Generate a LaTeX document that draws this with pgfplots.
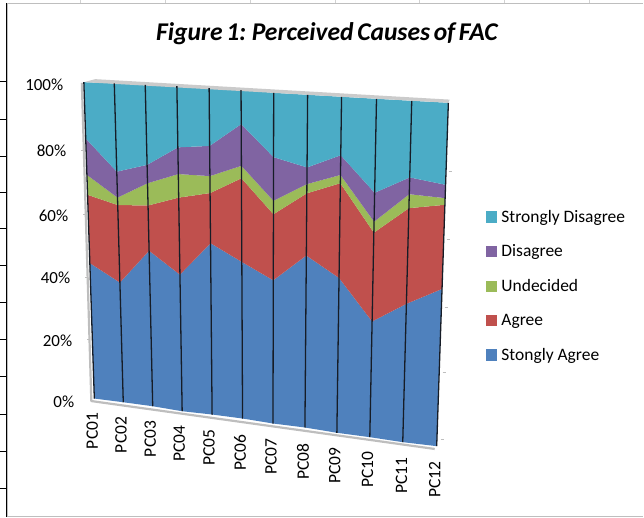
\documentclass[border=0pt]{standalone}
\usepackage{pgfplots}
\usepackage{pgfplotstable}
\usepackage{fontspec}
\setmainfont{Carlito}
\pgfplotsset{compat=1.18}
\usepgfplotslibrary{fillbetween}
\definecolor{cSD}{RGB}{75,172,198}
\definecolor{cD}{RGB}{128,100,162}
\definecolor{cU}{RGB}{155,187,89}
\definecolor{cA}{RGB}{192,80,77}
\definecolor{cSA}{RGB}{79,129,189}
\definecolor{wall}{RGB}{190,190,190}
% bx,by / tx,ty: where the 0% and the 100% of each category stand in the perspective view
\pgfplotstableread{
pc bx by tx ty sa a u d sd
1 94 399 83.5 82 44.0 21.5 6.2 11.2 17.1
2 123 402.7 114 83.3 38.7 24.3 2.3 8.0 26.7
3 152.5 406.7 145 84.7 49.6 14.0 6.8 5.6 24.0
4 182 411.7 176.7 86 43.2 23.6 7.1 8.0 18.1
5 212 415 209 88 53.7 15.2 5.1 9.0 17.0
6 242.5 419 241 90 48.9 25.2 3.7 12.3 9.9
7 273 424 273.7 92.7 44.5 19.9 4.0 12.9 18.7
8 305 428 307.7 94.7 52.9 18.5 2.7 4.9 21.0
9 337 433.3 341.7 96.7 47.3 27.9 2.4 5.7 16.7
10 370 437.7 376.7 98.7 35.3 26.3 3.2 8.4 26.8
11 403 442.7 412 100.7 41.7 27.9 4.0 4.8 21.6
12 437 446.7 448.7 102.7 47.0 24.3 1.9 3.8 23.0
}\data
\newcommand\layer[2]{\addplot[draw=none,forget plot,name path=#1] table[
  x expr={\thisrow{bx}+(\thisrow{tx}-\thisrow{bx})*sc((#2)/100)},
  y expr={-(\thisrow{by}+(\thisrow{ty}-\thisrow{by})*sc((#2)/100))}] {\data};}
\newcommand\ylab[3]{\node[anchor=east,font=\fontsize{17}{20}\selectfont,inner sep=0pt] at (axis cs:#1,-#2) {#3};}
\newcommand\xlab[3]{\node[rotate=90,font=\fontsize{17.5}{20}\selectfont,inner sep=0pt] at (axis cs:#1,-#2) {#3};}
\newcommand\gtick[1]{\draw[black,line width=1pt] (axis cs:0,-#1) -- (axis cs:6,-#1);}
\newcommand\ttick[1]{\draw[wall!70,line width=.6pt] (axis cs:#1,0) -- (axis cs:#1,-3);}
\newcommand\ltick[2]{\draw[wall,line width=.8pt] (axis cs:#2,-#1) -- +(-3pt,0pt);}
\newcommand\rtick[2]{\draw[wall,line width=.8pt] (axis cs:#2,-#1) -- +(3pt,0pt);}
\begin{document}
\begin{tikzpicture}
\begin{axis}[
  width=644pt,height=518pt,scale only axis,
  xmin=0,xmax=644,ymin=-518,ymax=0,
  hide axis,clip=false,
  declare function={sc(\p)=\p/(1.05-0.05*\p);},
  legend cell align=left,
  legend style={at={(axis cs:486,-208)},anchor=north west,draw=none,fill=none,
    font=\fontsize{17.5}{20}\selectfont,inner sep=0pt,outer sep=0pt,
    row sep=17.2pt,column sep=3pt},
  legend image code/.code={\fill[#1] (0pt,-5.2pt) rectangle (10.5pt,5.2pt);},
]
\path (axis cs:0,0) rectangle (axis cs:644,-518);
% sheet frame behind the chart
\draw[wall,line width=1.4pt] (axis cs:7,-3) -- (axis cs:7,-517) (axis cs:7,-3) -- (axis cs:644,-3) (axis cs:7,-517) -- (axis cs:644,-517);
\draw[black,line width=1.1pt] (axis cs:6,-3) -- (axis cs:6,-518);
\ttick{80}\ttick{165}\ttick{250}\ttick{335}\ttick{420}\ttick{505}\ttick{590}
\gtick{81}\gtick{119}\gtick{156}\gtick{193}\gtick{229}\gtick{266}\gtick{303}\gtick{340}\gtick{377}\gtick{415}\gtick{452}\gtick{489}
% walls of the 3-D box
\fill[wall!80] (axis cs:80,-83) -- (axis cs:95,-79) -- (axis cs:450,-99.5) -- (axis cs:448.7,-102.7) -- (axis cs:83.5,-82) -- cycle;
\draw[wall,line width=2.2pt,line join=round] (axis cs:81.5,-83) -- (axis cs:91,-401.5) -- (axis cs:435,-449.5);
\ltick{150}{84}\ltick{215}{86}\ltick{278}{88}\ltick{340}{90}
\rtick{171}{449}\rtick{240}{447}\rtick{308}{445}\rtick{373}{443}\rtick{440}{441}
% layers
\layer{L0}{0}
\layer{L1}{\thisrow{sa}}
\layer{L2}{\thisrow{sa}+\thisrow{a}}
\layer{L3}{\thisrow{sa}+\thisrow{a}+\thisrow{u}}
\layer{L4}{\thisrow{sa}+\thisrow{a}+\thisrow{u}+\thisrow{d}}
\layer{L5}{\thisrow{sa}+\thisrow{a}+\thisrow{u}+\thisrow{d}+\thisrow{sd}}
\addplot[cSA,forget plot] fill between[of=L0 and L1];
\addplot[cA,forget plot] fill between[of=L1 and L2];
\addplot[cU,forget plot] fill between[of=L2 and L3];
\addplot[cD,forget plot] fill between[of=L3 and L4];
\addplot[cSD,forget plot] fill between[of=L4 and L5];
% dark dividers at each category
\addplot[forget plot,color={rgb,255:red,22;green,28;blue,38},line width=1.3pt,
  quiver={u=\thisrow{tx}-\thisrow{bx},v=\thisrow{by}-\thisrow{ty}}]
  table[x=bx,y expr=-\thisrow{by}] {\data};
% legend
\addlegendimage{cSD}\addlegendentry{Strongly Disagree}
\addlegendimage{cD}\addlegendentry{Disagree}
\addlegendimage{cU}\addlegendentry{Undecided}
\addlegendimage{cA}\addlegendentry{Agree}
\addlegendimage{cSA}\addlegendentry{Stongly Agree}
% labels
\node[font=\fontsize{25.6}{28}\selectfont\bfseries\itshape] at (axis cs:327,-33) {\spaceskip=0.14em Figure 1: Perceived Causes of FAC};
\ylab{63}{85}{100\%}\ylab{66}{151}{80\%}\ylab{68}{215.7}{60\%}\ylab{70}{278}{40\%}\ylab{72}{340.7}{20\%}\ylab{74}{402}{0\%}
\xlab{92}{431.5}{PC01}\xlab{120.7}{435.5}{PC02}\xlab{150}{439.5}{PC03}\xlab{179}{444}{PC04}\xlab{209}{448.5}{PC05}\xlab{240}{453}{PC06}
\xlab{271}{457}{PC07}\xlab{303}{462}{PC08}\xlab{335}{466.5}{PC09}\xlab{367.7}{470.5}{PC10}\xlab{401.7}{476}{PC11}\xlab{435}{480.5}{PC12}
\end{axis}
\end{tikzpicture}
\end{document}
